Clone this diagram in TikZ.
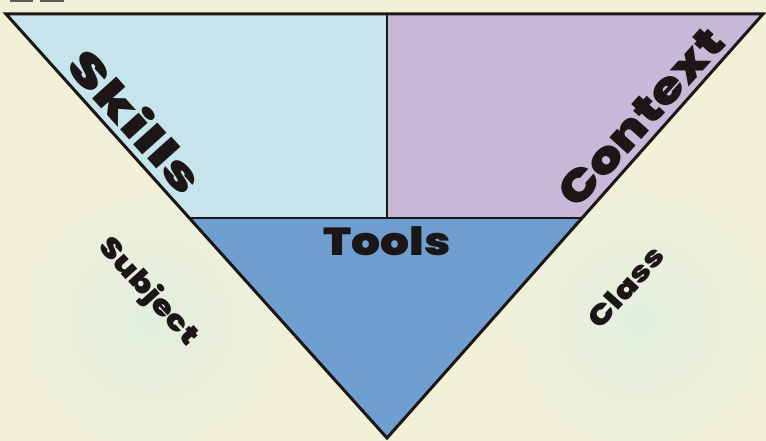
\documentclass[tikz,border=0pt]{standalone}
\usepackage{fontspec}
\setmainfont{Poppins}
\newfontfamily\heavyfont{Poppins Black}
\usetikzlibrary{calc,positioning}
\definecolor{cream}{HTML}{F3F0D8}
\definecolor{mint}{HTML}{E2EFDE}
\definecolor{skillsblue}{HTML}{C6E4EC}
\definecolor{contextlilac}{HTML}{CAB8D8}
\definecolor{toolsblue}{HTML}{6F9FD0}
\definecolor{ink}{HTML}{1C1616}

\begin{document}
\begin{tikzpicture}[x=1pt,y=-1pt,
  big/.style={font=\heavyfont\fontsize{44}{44}\selectfont,text=ink,inner sep=0pt},
  small/.style={font=\heavyfont\fontsize{28}{28}\selectfont,text=ink,inner sep=0pt},
  divider/.style={draw=ink,line width=1.2pt}]
  \useasboundingbox (0,0) rectangle (766,441);
  % background
  \fill[cream] (0,0) rectangle (766,441);
  \shade[inner color=mint,outer color=cream] (150,320) circle (160);
  \shade[inner color=mint,outer color=cream] (640,320) circle (160);
  \fill[ink!70] (10,0) rectangle (33,2);
  \fill[ink!70] (40,0) rectangle (64,2);
  % triangle corners
  \coordinate (tl) at (6,14);
  \coordinate (tr) at (763,14);
  \coordinate (tm) at (387,14);
  \coordinate (ap) at (387,438);
  \coordinate (ml) at ($(tl)!0.481!(ap)$);
  \coordinate (mr) at ($(tr)!0.481!(ap)$);
  \coordinate (mm) at (387,218);
  % regions
  \fill[skillsblue] (tl) -- (tm) -- (mm) -- (ml) -- cycle;
  \fill[contextlilac] (tm) -- (tr) -- (mr) -- (mm) -- cycle;
  \fill[toolsblue] (ml) -- (mr) -- (ap) -- cycle;
  \draw[divider] (tm) -- (mm);
  \draw[divider] (ml) -- (mr);
  \draw[ink,line width=3pt,line join=miter] (tl) -- (tr) -- (ap) -- cycle;
  % labels
  \node[big,rotate=-48] (skills) at (137,121) {\scalebox{1.4}[1]{Skills}};
  \node[big,rotate=48] (context) at (641,117) {\scalebox{1.2}[1]{Context}};
  \node[big,font=\heavyfont\fontsize{39}{39}\selectfont] (tools) at (387,241) {\scalebox{1.17}[1]{Tools}};
  \node[small,rotate=-48] (subject) at (148,292) {\scalebox{1.2}[1]{Subject}};
  \node[small,rotate=48] (class) at (626,287) {\scalebox{1.2}[1]{Class}};
\end{tikzpicture}
\end{document}
